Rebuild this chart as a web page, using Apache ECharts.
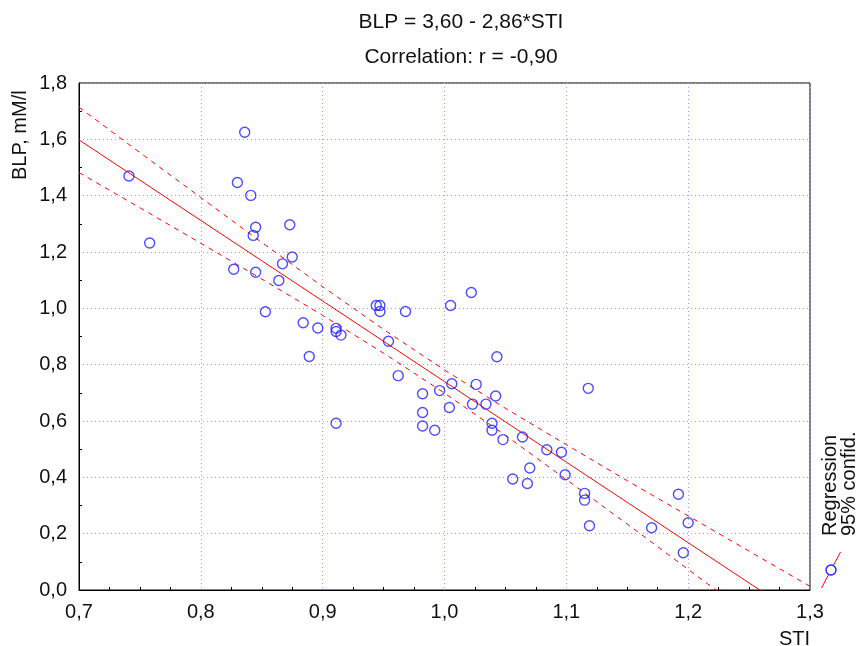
<!DOCTYPE html>
<html>
<head>
<meta charset="utf-8">
<script src="https://cdn.jsdelivr.net/npm/echarts@6/dist/echarts.min.js"></script>
<style>
  html, body { margin: 0; padding: 0; background: #fff; }
  #main { width: 866px; height: 646px; }
</style>
</head>
<body>
<div id="main"></div>
<script>
var sti = [0.741, 0.758, 0.836, 0.830, 0.841, 0.845, 0.843, 0.873, 0.827, 0.845,
           0.867, 0.875, 0.864, 0.853, 0.884, 0.896, 0.911, 0.911, 0.915, 0.889,
           0.911, 0.944, 0.947, 0.947, 0.968, 0.954, 1.005, 1.022, 1.043, 0.962,
           0.982, 0.996, 1.006, 1.026, 1.042, 1.004, 1.023, 1.034, 0.982, 0.982,
           0.992, 1.039, 1.039, 1.048, 1.064, 1.084, 1.096, 1.070, 1.118, 1.056,
           1.068, 1.099, 1.115, 1.115, 1.119, 1.170, 1.192, 1.200, 1.196];
var blp = [1.470, 1.232, 1.625, 1.447, 1.401, 1.288, 1.259, 1.297, 1.139, 1.128,
           1.158, 1.182, 1.099, 0.988, 0.949, 0.930, 0.929, 0.918, 0.905, 0.829,
           0.592, 1.010, 1.010, 0.989, 0.989, 0.883, 1.010, 1.056, 0.828, 0.761,
           0.697, 0.708, 0.732, 0.730, 0.689, 0.648, 0.660, 0.660, 0.630, 0.582,
           0.567, 0.592, 0.567, 0.534, 0.543, 0.498, 0.489, 0.433, 0.716, 0.394,
           0.378, 0.409, 0.343, 0.319, 0.228, 0.221, 0.340, 0.239, 0.132];

// regression line BLP = 3,60 - 2,86*STI and its 95% band
var fitX   = [0.70, 0.75, 0.80, 0.85, 0.90, 0.95, 1.00, 1.05, 1.10, 1.15, 1.20, 1.25, 1.30];
var fitY   = [1.598, 1.455, 1.312, 1.169, 1.026, 0.883, 0.740, 0.597, 0.454, 0.311, 0.168, 0.025, -0.118];
var upperY = [1.714, 1.553, 1.393, 1.234, 1.077, 0.925, 0.781, 0.645, 0.516, 0.388, 0.263, 0.138, 0.013];
var lowerY = [1.482, 1.357, 1.231, 1.104, 0.975, 0.841, 0.699, 0.549, 0.392, 0.234, 0.073, -0.088, -0.249];

var xTicks = [0.7, 0.8, 0.9, 1.0, 1.1, 1.2, 1.3];
var yTicks = [0.0, 0.2, 0.4, 0.6, 0.8, 1.0, 1.2, 1.4, 1.6, 1.8];

var FONT = '"Liberation Sans", Arial, sans-serif';
var INK = '#111';

function pairs(xs, ys) {
    var out = [];
    for (var i = 0; i < xs.length; i++) out.push([xs[i], ys[i]]);
    return out;
}
function fmtComma(v) {
    return v.toFixed(1).replace('.', ',');
}

var myChart = echarts.init(document.getElementById('main'), null, { renderer: 'canvas' });

var gridStyle = { color: '#9c9cff', type: [1, 3], width: 1 };

var option = {
    backgroundColor: '#fff',
    animation: false,
    textStyle: { fontFamily: FONT },
    title: [
        { text: 'BLP = 3,60 - 2,86*STI', left: 461, top: 12, textAlign: 'center', padding: 0,
          textStyle: { fontSize: 21, fontWeight: 'normal', color: INK, fontFamily: FONT } },
        { text: 'Correlation: r = -0,90', left: 461, top: 47, textAlign: 'center', padding: 0,
          textStyle: { fontSize: 21, fontWeight: 'normal', color: INK, fontFamily: FONT } }
    ],
    grid: {
        left: 79, right: 56, top: 83, bottom: 56,
        show: true, borderColor: '#000', borderWidth: 1, backgroundColor: 'transparent'
    },
    xAxis: {
        type: 'value',
        min: xTicks[0], max: xTicks[xTicks.length - 1], interval: 0.1,
        axisLine: { show: true, onZero: false, lineStyle: { color: '#000', width: 1 } },
        axisTick: { show: false, inside: true },
        minorTick: { show: true, splitNumber: 4, length: 3, lineStyle: { color: '#000' } },
        axisLabel: { formatter: fmtComma, fontSize: 20, color: INK, margin: 12, fontFamily: FONT },
        splitLine: { show: true, lineStyle: gridStyle }
    },
    yAxis: {
        type: 'value',
        min: yTicks[0], max: yTicks[yTicks.length - 1], interval: 0.2,
        axisLine: { show: true, onZero: false, lineStyle: { color: '#000', width: 1 } },
        axisTick: { show: false, inside: true },
        minorTick: { show: true, splitNumber: 2, length: 3, lineStyle: { color: '#000' } },
        axisLabel: { formatter: fmtComma, fontSize: 20, color: INK, margin: 12, fontFamily: FONT },
        splitLine: { show: true, lineStyle: gridStyle }
    },
    graphic: [
        { type: 'text', x: 20.5, y: 180, rotation: Math.PI / 2,
          style: { text: 'BLP, mM/l', font: '20px ' + FONT, fill: INK, textAlign: 'left', textVerticalAlign: 'middle' } },
        { type: 'text', x: 810, y: 639,
          style: { text: 'STI', font: '20px ' + FONT, fill: INK, textAlign: 'right', textVerticalAlign: 'middle' } },
        // legend: rotated labels and symbol
        { type: 'text', x: 830, y: 536, rotation: Math.PI / 2,
          style: { text: 'Regression', font: '20px ' + FONT, fill: INK, textAlign: 'left', textVerticalAlign: 'middle' } },
        { type: 'text', x: 849, y: 536, rotation: Math.PI / 2,
          style: { text: '95% confid.', font: '20px ' + FONT, fill: INK, textAlign: 'left', textVerticalAlign: 'middle' } },
        { type: 'line', shape: { x1: 821.5, y1: 588, x2: 840.5, y2: 552 },
          style: { stroke: '#ff0000', lineWidth: 1 } },
        { type: 'circle', shape: { cx: 831, cy: 570, r: 5 },
          style: { fill: '#fff', stroke: '#2020ff', lineWidth: 1.4 } }
    ],
    series: [
        {
            name: 'Regression', type: 'line', data: pairs(fitX, fitY),
            symbol: 'none', clip: true, z: 3,
            lineStyle: { color: '#ff0000', width: 1 }
        },
        {
            name: '95% upper', type: 'line', data: pairs(fitX, upperY),
            symbol: 'none', clip: true, z: 3,
            lineStyle: { color: '#ff0000', width: 1, type: [5, 5] }
        },
        {
            name: '95% lower', type: 'line', data: pairs(fitX, lowerY),
            symbol: 'none', clip: true, z: 3,
            lineStyle: { color: '#ff0000', width: 1, type: [5, 5] }
        },
        {
            name: 'BLP', type: 'scatter', data: pairs(sti, blp),
            symbol: 'circle', symbolSize: 10, z: 4,
            itemStyle: { color: 'transparent', borderColor: '#2020ff', borderWidth: 1.4 }
        }
    ]
};

myChart.setOption(option);
</script>
</body>
</html>
